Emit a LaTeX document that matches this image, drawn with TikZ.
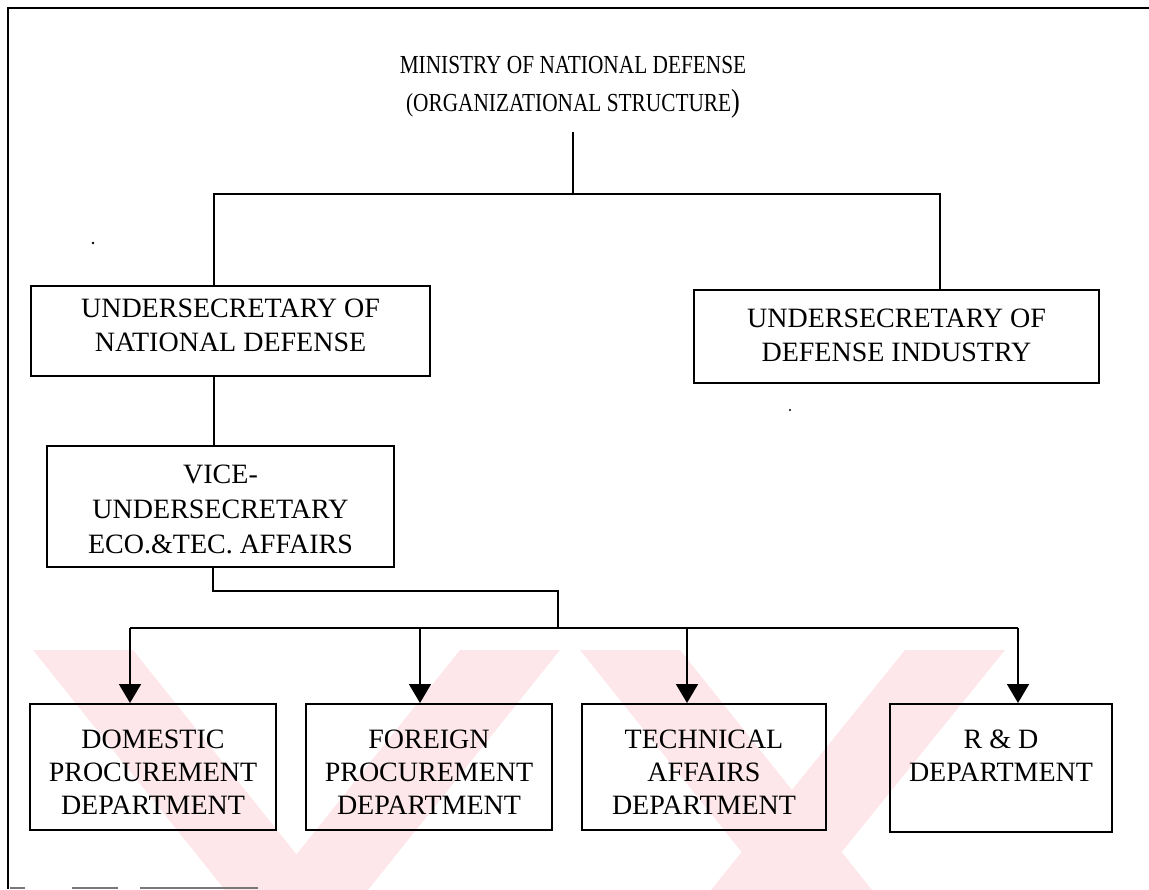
\documentclass[tikz,border=0pt]{standalone}
\usepackage{fontspec}
\setmainfont{Liberation Serif}
\newfontfamily\headfont[FakeStretch=0.82]{Liberation Serif}
\usetikzlibrary{arrows.meta}
\definecolor{wmpink}{RGB}{253,231,235}
\definecolor{scangray}{RGB}{120,120,120}
\tikzset{
  orgbox/.style={draw, line width=2pt, rectangle, inner sep=0pt},
  boxtext/.style={align=center, inner sep=0pt, anchor=north, font=\fontsize{28}{34}\selectfont},
  wire/.style={line width=1.9pt},
  feed/.style={wire, -{Triangle[width=22pt,length=19pt]}},
  frameline/.style={line width=2.2pt},
}
\begin{document}
\begin{tikzpicture}[x=1pt,y=-1pt]
\useasboundingbox (0,0) rectangle (1149,890);

% faint background emblem
\begin{scope}
  \clip (8,650) rectangle (1149,890);
  \fill[wmpink] (33,650) -- (133,650) -- (325,890) -- (225,890) -- cycle;
  \fill[wmpink] (460,650) -- (560,650) -- (368,890) -- (268,890) -- cycle;
  \fill[wmpink] (580,650) -- (680,650) -- (872,890) -- (772,890) -- cycle;
  \fill[wmpink] (905,650) -- (1005,650) -- (811,890) -- (711,890) -- cycle;
\end{scope}

% page frame
\draw[frameline] (1149,8) -- (8,8) -- (8,889);
\draw[scangray, line width=1.5pt] (10,888) -- (25,888) (72,888) -- (118,888) (140,888) -- (258,888);

% heading
\node[font=\headfont\fontsize{26}{38}\selectfont, align=center, inner sep=0pt, anchor=north] (title) at (573,56)
  {MINISTRY OF NATIONAL DEFENSE\\(ORGANIZATIONAL STRUCTURE{\fontsize{32}{38}\selectfont)}};

% second level
\node[orgbox, minimum width=399pt, minimum height=90pt] (usnd) at (230.5,331) {};
\node[boxtext] (usnd-t) at (230.5,299) {UNDERSECRETARY OF\\NATIONAL DEFENSE};
\node[orgbox, minimum width=405pt, minimum height=93pt] (usdi) at (896.5,336.5) {};
\node[boxtext] (usdi-t) at (896.5,309) {UNDERSECRETARY OF\\DEFENSE INDUSTRY};

% third level
\node[orgbox, minimum width=347pt, minimum height=121pt] (vice) at (220.5,506.5) {};
\node[boxtext, font=\fontsize{28}{35}\selectfont] (vice-t) at (220.5,465) {VICE-\\UNDERSECRETARY\\ECO.\&TEC. AFFAIRS};

% departments
\node[orgbox, minimum width=246pt, minimum height=126pt] (dom) at (153,767) {};
\node[boxtext, font=\fontsize{28}{33}\selectfont] (dom-t) at (153,730) {DOMESTIC\\PROCUREMENT\\DEPARTMENT};
\node[orgbox, minimum width=246pt, minimum height=126pt] (for) at (429,767) {};
\node[boxtext, font=\fontsize{28}{33}\selectfont] (for-t) at (429,730) {FOREIGN\\PROCUREMENT\\DEPARTMENT};
\node[orgbox, minimum width=244pt, minimum height=126pt] (tec) at (704,767) {};
\node[boxtext, font=\fontsize{28}{33}\selectfont] (tec-t) at (704,730) {TECHNICAL\\AFFAIRS\\DEPARTMENT};
\node[orgbox, minimum width=222pt, minimum height=128pt] (rnd) at (1001,768) {};
\node[boxtext, font=\fontsize{28}{33}\selectfont] (rnd-t) at (1001,730) {R \& D\\DEPARTMENT};

% junction points
\coordinate (title-foot) at (573,132);
\coordinate (top-l) at (214,194);
\coordinate (top-m) at (573,194);
\coordinate (top-r) at (940,194);
\coordinate (vx) at (213,591);
\coordinate (bus-m) at (558,628);
\coordinate (bus-l) at (130,628);
\coordinate (bus-f) at (420,628);
\coordinate (bus-t) at (687,628);
\coordinate (bus-r) at (1018,628);

% connectors
\draw[wire] (title-foot) -- (top-m);
\draw[wire] (usnd.north -| top-l) -- (top-l) -- (top-r) -- (usdi.north -| top-r);
\draw[wire] (usnd.south -| top-l) -- (vice.north -| top-l);
\draw[wire] (vice.south -| vx) -- (vx) -- (vx -| bus-m) -- (bus-m);
\draw[wire] (bus-l) -- (bus-r);
\draw[feed] (bus-l) -- (bus-l |- dom.north);
\draw[feed] (bus-f) -- (bus-f |- for.north);
\draw[feed] (bus-t) -- (bus-t |- tec.north);
\draw[feed] (bus-r) -- (bus-r |- rnd.north);

% specks
\fill (93,243) circle (1.3);
\fill (790,410) circle (1.1);
\end{tikzpicture}
\end{document}
